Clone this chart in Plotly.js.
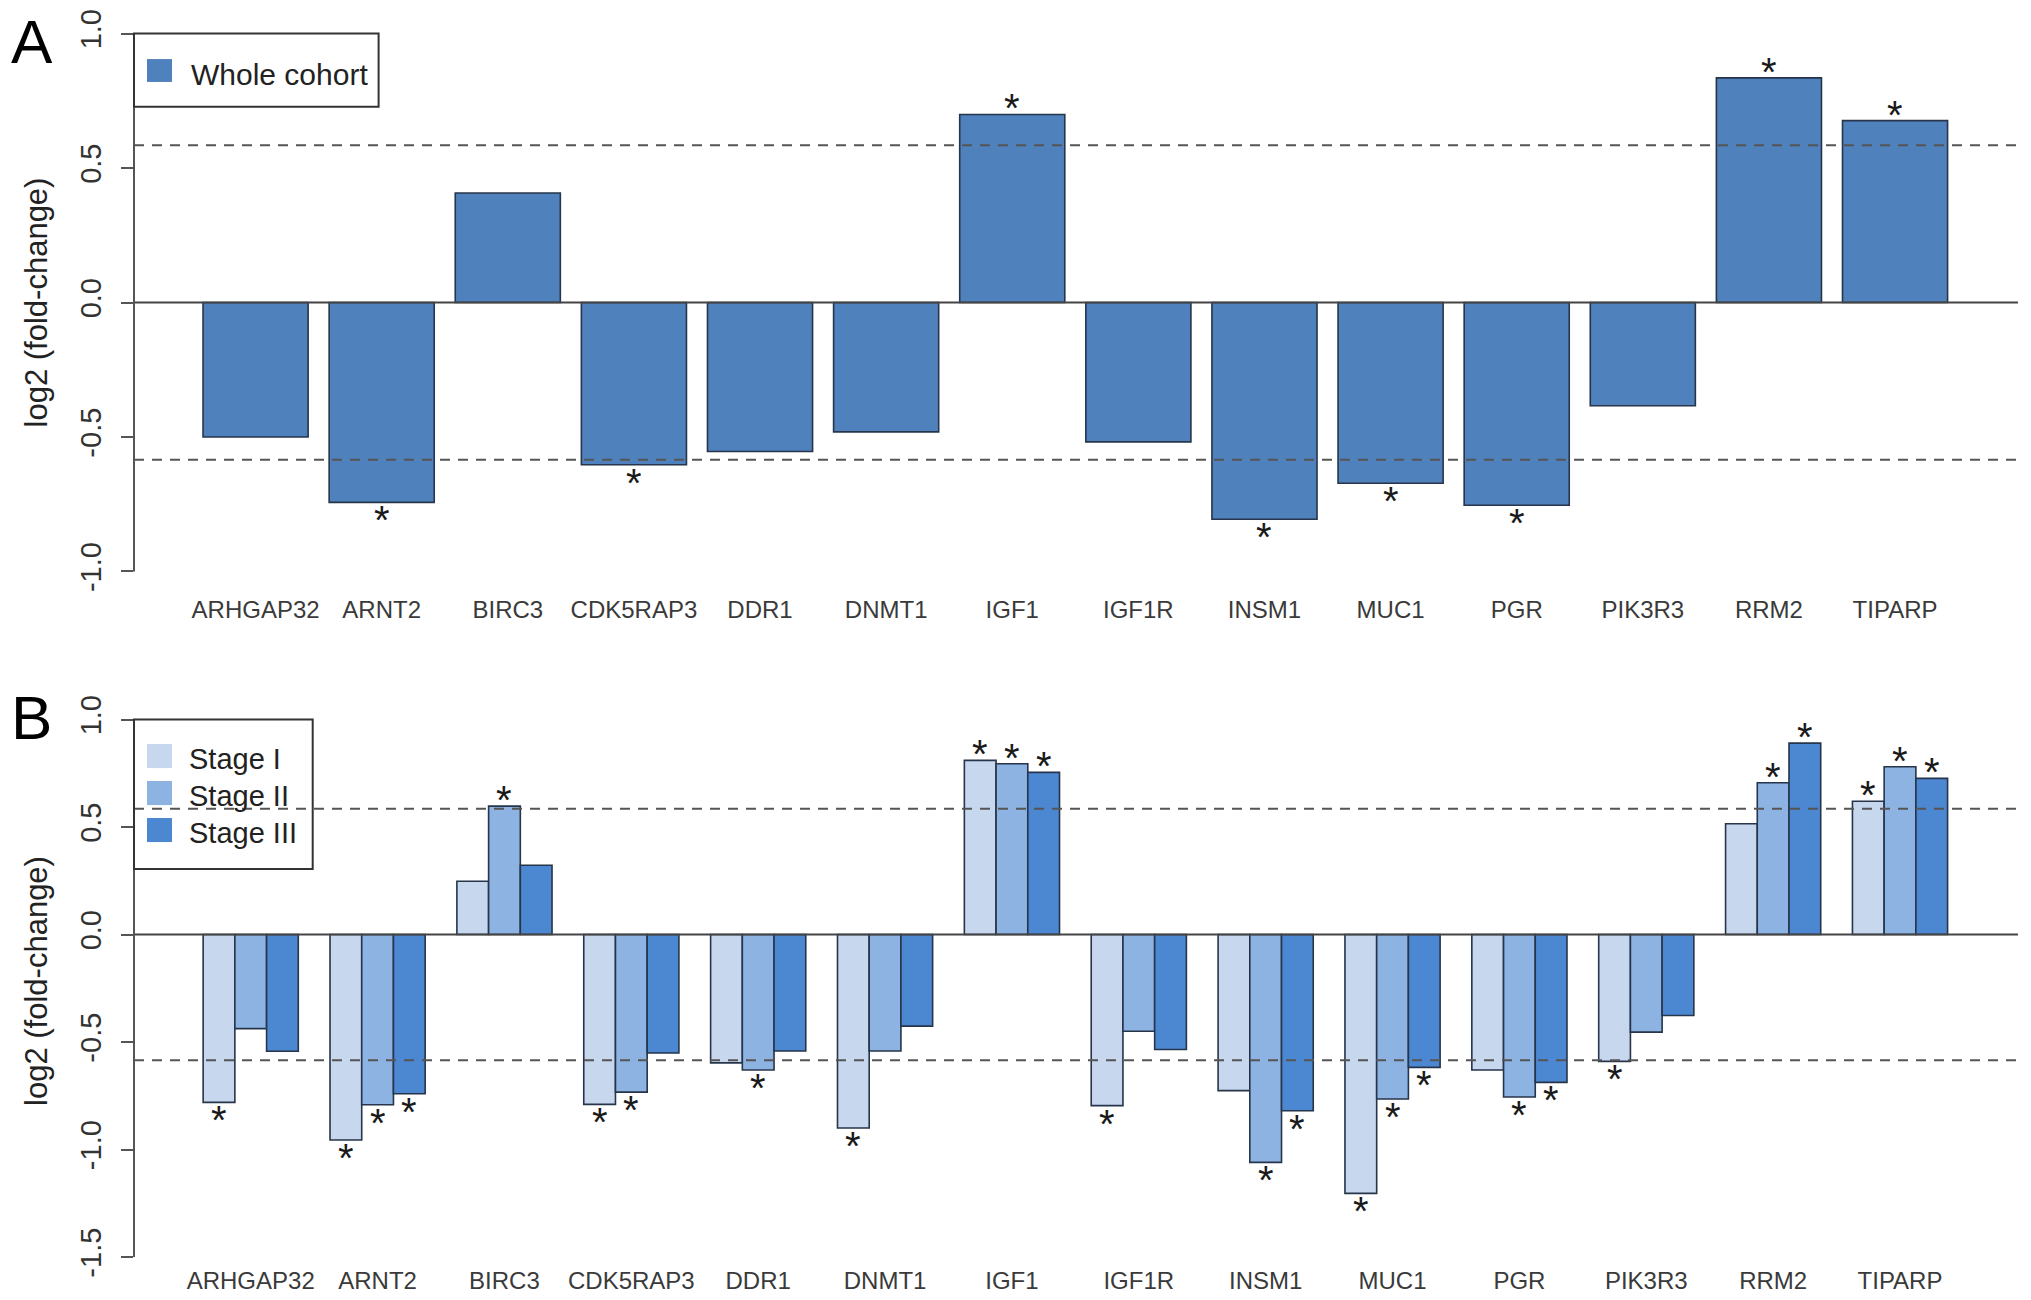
<!DOCTYPE html>
<html>
<head>
<meta charset="utf-8">
<script src="https://cdn.plot.ly/plotly-3.0.1.min.js"></script>
<style>html,body{margin:0;padding:0;background:#fff;}#chart{width:2031px;height:1300px;}</style>
</head>
<body>
<div id="chart"></div>
<script>
// ---------------- data ----------------
const genes = ["ARHGAP32","ARNT2","BIRC3","CDK5RAP3","DDR1","DNMT1","IGF1","IGF1R","INSM1","MUC1","PGR","PIK3R3","RRM2","TIPARP"];
const wholeCohort = [-0.500,-0.743,0.407,-0.603,-0.554,-0.481,0.699,-0.518,-0.806,-0.672,-0.754,-0.384,0.835,0.676];
const sigWhole    = [0,1,0,1,0,0,1,0,1,1,1,0,1,1];
const stageI   = [-0.781,-0.956,0.248,-0.790,-0.597,-0.900,0.810,-0.796,-0.726,-1.204,-0.630,-0.590,0.515,0.620];
const stageII  = [-0.438,-0.792,0.597,-0.733,-0.630,-0.542,0.794,-0.450,-1.060,-0.765,-0.756,-0.454,0.706,0.780];
const stageIII = [-0.543,-0.741,0.322,-0.551,-0.542,-0.426,0.754,-0.535,-0.820,-0.618,-0.688,-0.377,0.890,0.726];
const sigI   = [1,1,0,1,0,1,1,1,0,1,0,1,0,1];
const sigII  = [0,1,1,1,1,0,1,0,1,1,1,0,1,1];
const sigIII = [0,1,0,0,0,0,1,0,1,1,1,0,1,1];
const stageNames = ["Stage I","Stage II","Stage III"];
const wholeName = "Whole cohort";
const threshold = 0.585; // log2(1.5)
const ticksA = [-1,-0.5,0,0.5,1];
const ticksB = [-1.5,-1,-0.5,0,0.5,1];

// ---------------- style ----------------
const FONT = "Liberation Sans, Arial, Helvetica, sans-serif";
const colWhole = "#4F81BD";
const stageCols = ["#C6D7EE","#8DB3E2","#4C87D2"];
const edge = "#26354a";
const axisCol = "#555555";

const W = 2031, H = 1300, ML = 134, MR = 13, MT = 12, MB = 36;
const plotW = W - ML - MR, plotH = H - MT - MB;
const py2paper = py => (H - MB - py) / plotH;
const px2dom = px => (px - ML) / plotW;
const px2paper = px => (px - ML) / plotW;

const fmt = v => v.toFixed(1);

// ---------------- traces ----------------
const traces = [];
traces.push({
  type:"bar", x:genes, y:wholeCohort, name:wholeName, xaxis:"x", yaxis:"y",
  width:0.8333, offset:-0.41665,
  marker:{color:colWhole, line:{color:edge, width:1.6}}, showlegend:false, hoverinfo:"x+y"
});
const stageVals = [stageI, stageII, stageIII];
const stageSig = [sigI, sigII, sigIII];
const offs = [-0.375, -0.125, 0.125];
for (let k = 0; k < 3; k++) {
  traces.push({
    type:"bar", x:genes, y:stageVals[k], name:stageNames[k], xaxis:"x2", yaxis:"y2",
    width:0.25, offset:offs[k],
    marker:{color:stageCols[k], line:{color:edge, width:1.6}}, showlegend:false, hoverinfo:"x+y+name"
  });
}

// ---------------- shapes ----------------
const shapes = [];
function hline(y, yref, xref, dash) {
  shapes.push({type:"line", xref:xref+" domain", yref:yref, x0:0, x1:1, y0:y, y1:y,
    line:{color: dash ? "#555555" : "#444444", width: 2, dash: dash ? "10px,8px" : "solid"}, layer:"above"});
}
hline(0, "y", "x", false); hline(threshold, "y", "x", true); hline(-threshold, "y", "x", true);
hline(0, "y2", "x2", false); hline(threshold, "y2", "x2", true); hline(-threshold, "y2", "x2", true);
// y axis lines limited to tick extent (R style)
shapes.push({type:"line", xref:"x domain", yref:"y", x0:0, x1:0, y0:ticksA[0], y1:ticksA[ticksA.length-1], line:{color:axisCol, width:2}});
shapes.push({type:"line", xref:"x2 domain", yref:"y2", x0:0, x1:0, y0:ticksB[0], y1:ticksB[ticksB.length-1], line:{color:axisCol, width:2}});

// legends (R-style boxes)
const annotations = [];
// panel A legend
shapes.push({type:"rect", xref:"x domain", yref:"y", x0:0, x1:px2dom(378.6), y0:0.7275, y1:1.0, line:{color:"#333333", width:2}, fillcolor:"rgba(255,255,255,0)"});
shapes.push({type:"rect", xref:"x domain", yref:"y", x0:px2dom(147), x1:px2dom(172), y0:0.820, y1:0.905, line:{width:0}, fillcolor:colWhole});
annotations.push({xref:"x domain", yref:"y", x:px2dom(189), y:0.848, xanchor:"left", yanchor:"middle", text:wholeName, showarrow:false, font:{family:FONT, size:30, color:"#222"}});
// panel B legend
shapes.push({type:"rect", xref:"x2 domain", yref:"y2", x0:0, x1:px2dom(312.7), y0:0.305, y1:1.0, line:{color:"#333333", width:2}, fillcolor:"rgba(255,255,255,0)"});
const legCentersB = [0.830, 0.658, 0.486];
for (let k = 0; k < 3; k++) {
  shapes.push({type:"rect", xref:"x2 domain", yref:"y2", x0:px2dom(147), x1:px2dom(172), y0:legCentersB[k]-0.056, y1:legCentersB[k]+0.056, line:{width:0}, fillcolor:stageCols[k]});
  annotations.push({xref:"x2 domain", yref:"y2", x:px2dom(187), y:legCentersB[k]-0.012, xanchor:"left", yanchor:"middle", text:stageNames[k], showarrow:false, font:{family:FONT, size:29, color:"#222"}});
}

// significance asterisks
function star(x, v, xref, yref) {
  annotations.push({xref:xref, yref:yref, x:x, y:v, text:"*", showarrow:false, xanchor:"center", yanchor:"middle",
    yshift: v >= 0 ? 6 : -18, font:{family:FONT, size:40, color:"#1a1a1a"}});
}
genes.forEach((g, i) => { if (sigWhole[i]) star(i, wholeCohort[i], "x", "y"); });
const starOff = [-0.25, 0, 0.25];
for (let k = 0; k < 3; k++) {
  genes.forEach((g, i) => { if (stageSig[k][i]) star(i + starOff[k], stageVals[k][i], "x2", "y2"); });
}

// panel letters
annotations.push({xref:"paper", yref:"paper", x:px2paper(32), y:py2paper(41), text:"A", showarrow:false, xanchor:"center", yanchor:"middle", font:{family:FONT, size:62, color:"#000"}});
annotations.push({xref:"paper", yref:"paper", x:px2paper(31), y:py2paper(717), text:"B", showarrow:false, xanchor:"center", yanchor:"middle", font:{family:FONT, size:62, color:"#000"}});

// ---------------- axes ----------------
const yBase = {
  showgrid:false, zeroline:false, showline:false, ticks:"outside", ticklen:12, tickwidth:2, tickcolor:axisCol,
  tickangle:-90, tickfont:{family:FONT, size:29, color:"#333"}, ticklabelstandoff:8,
  title:{text:"log2 (fold-change)", font:{family:FONT, size:31, color:"#222"}, standoff:18},
  fixedrange:true
};
const xBase = {
  type:"category", showgrid:false, zeroline:false, showline:false, ticks:"",
  tickfont:{family:FONT, size:24, color:"#3a3a3a"}, fixedrange:true, tickangle:0
};

const layout = {
  width:W, height:H, margin:{l:ML, r:MR, t:MT, b:MB, autoexpand:false},
  paper_bgcolor:"#fff", plot_bgcolor:"#fff", font:{family:FONT},
  showlegend:false, barmode:"overlay",
  xaxis: Object.assign({}, xBase, {anchor:"y", domain:[0,1], range:[-0.964, 13.975]}),
  yaxis: Object.assign({}, yBase, {anchor:"x", domain:[py2paper(593), 1], range:[-1.08, 1.08],
          tickvals:ticksA, ticktext:ticksA.map(fmt)}),
  xaxis2: Object.assign({}, xBase, {anchor:"y2", domain:[0,1], range:[-0.92, 13.93]}),
  yaxis2: Object.assign({}, yBase, {anchor:"x2", domain:[0, py2paper(698)], range:[(934.5-1264)/215, (934.5-698)/215],
          tickvals:ticksB, ticktext:ticksB.map(fmt)}),
  shapes:shapes, annotations:annotations
};

Plotly.newPlot("chart", traces, layout, {displayModeBar:false, staticPlot:true});
</script>
</body>
</html>
